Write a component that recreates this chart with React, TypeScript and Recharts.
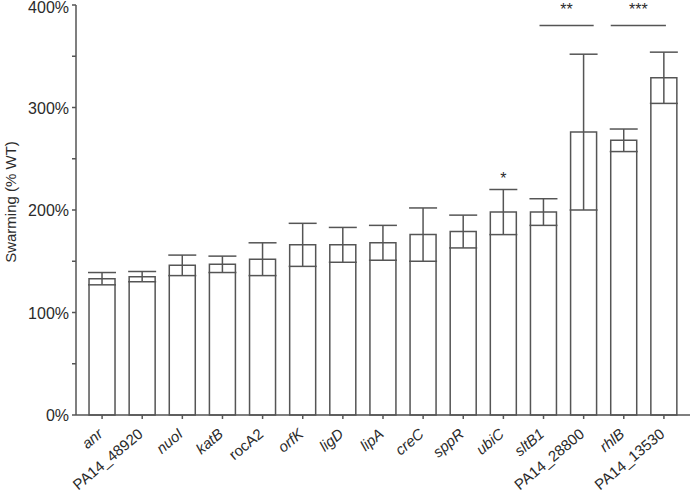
import React from 'react';
import { BarChart, Bar, XAxis, YAxis, ErrorBar, ReferenceLine, LabelList } from 'recharts';

const categories = ['anr', 'PA14_48920', 'nuoI', 'katB', 'rocA2', 'orfK', 'ligD', 'lipA', 'creC', 'sppR', 'ubiC', 'sltB1', 'PA14_28800', 'rhlB', 'PA14_13530'];
const means = [133, 135, 146, 147, 152, 166, 166, 168, 176, 179, 198, 198, 276, 268, 329];
const errors = [6, 5, 10, 8, 16, 21, 17, 17, 26, 16, 22, 13, 76, 11, 25];
const italicFlags = [true, false, true, true, false, true, true, true, true, true, true, true, false, true, false];
const sigMarks = ['', '', '', '', '', '', '', '', '', '', '*', '', '', '', ''];
const bracketFrom = [10.9, 12.675];
const bracketTo = [12.25, 14.05];
const bracketLabels = ['**', '***'];
const bracketLevel = 380;
const yTicks = [0, 50, 100, 150, 200, 250, 300, 350, 400];

const data = categories.map((name, i) => ({
  idx: i,
  name,
  mean: means[i],
  err: errors[i],
  sig: sigMarks[i],
}));

const AXIS = '#555';
const TEXT = '#2b2b2b';
const FONT = '"Liberation Sans", Arial, Helvetica, sans-serif';

const XTick = (props: any) => {
  const { x, y, payload } = props;
  const i = payload.value as number;
  return (
    <g transform={`translate(${x},${y})`}>
      <text
        x={-8.1}
        y={12.3}
        transform="rotate(-40)"
        textAnchor="end"
        fill={TEXT}
        fontSize={15}
        fontFamily={FONT}
        fontStyle={italicFlags[i] ? 'italic' : 'normal'}
      >
        {categories[i]}
      </text>
    </g>
  );
};

const YTick = (props: any) => {
  const { x, y, payload } = props;
  const v = payload.value as number;
  if (v % 100 !== 0) return null;
  return (
    <text x={x} y={Math.max(y + 6, 13)} textAnchor="end" fill={TEXT} fontSize={16} fontFamily={FONT}>
      {`${v}%`}
    </text>
  );
};

const SigLabel = (props: any) => {
  const { x, y, width, height, value, index } = props;
  if (!value) return null;
  const pxPerUnit = height / means[index];
  const errTop = y - errors[index] * pxPerUnit;
  return (
    <text x={x + width / 2} y={errTop - 6} textAnchor="middle" fill={TEXT} fontSize={16} fontFamily={FONT}>
      {value}
    </text>
  );
};

const YTitle = (props: any) => {
  const { viewBox } = props;
  const cy = viewBox.y + viewBox.height / 2 - 8;
  const cx = 10;
  return (
    <text
      x={cx}
      y={cy}
      transform={`rotate(-90, ${cx}, ${cy})`}
      textAnchor="middle"
      dominantBaseline="central"
      fill={TEXT}
      fontSize={15}
      fontFamily={FONT}
    >
      Swarming (% WT)
    </text>
  );
};

export default function App() {
  return (
    <div style={{ position: 'absolute', left: 0, top: 0, background: '#fff' }}>
      <BarChart
        width={691}
        height={495}
        data={data}
        margin={{ top: 5, right: 1, bottom: 0, left: 0 }}
      >
        <XAxis
          type="number"
          dataKey="idx"
          domain={[-0.65, 14.65]}
          ticks={categories.map((_, i) => i)}
          interval={0}
          allowDataOverflow
          height={80}
          tickSize={4}
          tickMargin={2}
          stroke={AXIS}
          strokeWidth={1.5}
          tick={<XTick />}
        />
        <YAxis
          domain={[0, 400]}
          ticks={yTicks}
          interval={0}
          width={76}
          tickSize={4}
          tickMargin={3}
          stroke={AXIS}
          strokeWidth={1.5}
          tick={<YTick />}
          label={<YTitle />}
        />
        <Bar
          dataKey="mean"
          fill="#fff"
          stroke={AXIS}
          strokeWidth={1.5}
          barSize={26}
          isAnimationActive={false}
        >
          <ErrorBar dataKey="err" width={14} stroke={AXIS} strokeWidth={1.5} direction="y" />
          <LabelList dataKey="sig" content={<SigLabel />} />
        </Bar>
        {bracketLabels.map((lab, k) => (
          <ReferenceLine
            key={lab}
            segment={[
              { x: bracketFrom[k], y: bracketLevel },
              { x: bracketTo[k], y: bracketLevel },
            ]}
            stroke={AXIS}
            strokeWidth={1.5}
            ifOverflow="visible"
            label={{ value: lab, position: 'top', offset: 11, fill: TEXT, fontSize: 16, fontFamily: FONT }}
          />
        ))}
      </BarChart>
    </div>
  );
}
